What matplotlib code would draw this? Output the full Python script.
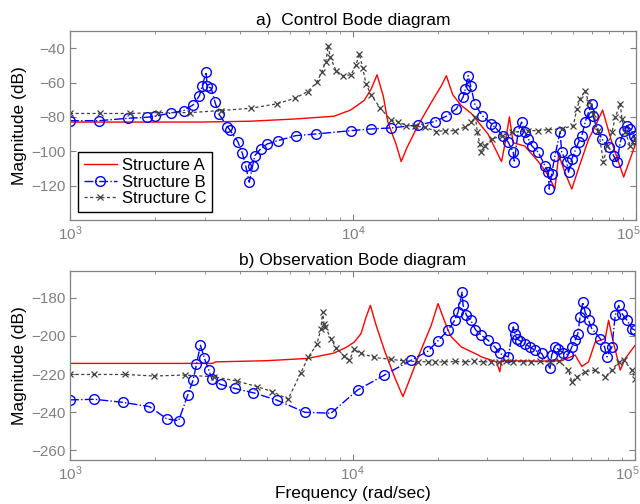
import matplotlib
matplotlib.use("Agg")
import matplotlib.pyplot as plt
from matplotlib.ticker import NullFormatter, LogLocator
from matplotlib.transforms import ScaledTranslation

plt.rcParams['font.family'] = ['Liberation Sans', 'DejaVu Sans']

# ---------------- Top panel: Control Bode diagram ----------------
fa_top = [1000, 2900, 4350, 6250, 8570, 9800, 10940, 11580, 12160, 12800, 13280, 14200,
          14800, 15500, 16960, 19000, 20500, 21370, 22500, 24000, 26200, 30000, 33480,
          34500, 35700, 36800, 40500, 45170, 49000, 51700, 53300, 56000, 59300, 62650,
          68000, 72000, 76200, 82220, 90450, 100000]
ma_top = [-83, -83, -82.5, -81.2, -79.6, -76, -70.5, -64, -55.5, -68, -83, -96,
          -106, -98, -85, -71, -62, -56, -67, -73, -78, -90, -106,
          -95, -80, -95, -97, -106, -114, -122, -102, -112, -122, -110,
          -93, -85, -76, -95, -115, -95]

fb_top = [1000, 1267, 1602, 1871, 2001, 2276, 2522, 2723, 2867, 2931, 3027, 3052, 3155,
          3249, 3357, 3595, 3672, 3917, 4062, 4175, 4300, 4420, 4500, 4718, 4984, 5433,
          6280, 7430, 9840, 11580, 13640, 16960, 19430, 21370, 23190, 24490, 24950, 25510,
          26060, 26920, 28600, 30860, 31700, 33960, 35350, 36830, 37130, 38380, 39420,
          40500, 41640, 42780, 45170, 47680, 48990, 49390, 50350, 51740, 53900, 54650,
          56930, 57750, 59300, 60960, 62650, 64370, 66100, 67970, 69830, 70500, 72740,
          75750, 79990, 83340, 85620, 87970, 90450, 92900, 95450, 98140, 100000]
mb_top = [-82.2, -82.2, -80.8, -80.2, -79.6, -77.7, -76.3, -73, -67.6, -62.1, -54, -62.1, -63.3,
          -71.1, -78.3, -85.6, -87.6, -94.4, -101, -108.4, -118, -108.4, -102.5, -98.6, -95.7, -93.8,
          -90.9, -89.9, -88, -87, -86.4, -84.7, -82.7, -79.6, -75.3, -68.5, -63.7, -56,
          -62, -72.4, -79.2, -84, -86, -90.9, -94.7, -100.6, -106.4, -88, -83,
          -88.9, -92.8, -96.7, -100.6, -108.4, -112.2, -122, -113, -102.5, -88.9, -100.6,
          -106.4, -112.2, -104.4, -99.6, -94.7, -90.9, -83.1, -77.3, -72.4, -79.2, -87,
          -92.8, -97.6, -102.5, -106.4, -94.7, -88, -85, -87, -91, -92.8]

fc_top = [1000, 1277, 1633, 2052, 2665, 3403, 4347, 5377, 6243, 6910, 7455, 7745, 8017,
          8171, 8309, 8703, 9194, 9840, 10250, 10530, 10820, 11120, 11580, 12500, 13640,
          14400, 15420, 16500, 18000, 19700, 21080, 22870, 24810, 26210, 27070, 27510,
          28040, 28430, 29210, 31000, 33480, 36330, 41640, 45170, 48990, 54650, 60070,
          61790, 63470, 66100, 67970, 70740, 73690, 76760, 78900, 82220, 84460, 87970,
          89200, 91630, 95450, 99400, 100000]
mc_top = [-78, -78, -78, -77.5, -77.5, -76.3, -75, -72.4, -69.1, -65.3, -59.8, -54, -47.8,
          -38.5, -45.2, -53, -56, -55.5, -49.7, -43.3, -51.6, -60.8, -67.2, -75, -82,
          -82.7, -85, -85.4, -86, -88.5, -88, -88, -86, -83, -80.2, -89,
          -95.7, -100.6, -96.7, -93, -90.9, -89, -88, -88, -87.4, -87, -85,
          -75.3, -69.5, -64.7, -71.5, -78.2, -88, -106.4, -96.7, -89, -80.2, -72.4,
          -81.2, -89, -96.7, -92.8, -94.7]

# ---------------- Bottom panel: Observation Bode diagram ----------------
fa_bot = [1000, 3200, 3274, 4928, 6932, 8600, 9500, 10150, 10720, 11170, 11570, 12120,
          12970, 14080, 15080, 15910, 17280, 19000, 20080, 21790, 22380, 24290, 27850,
          28610, 32340, 33230, 33690, 36000, 45000, 55000, 61380, 64820, 68480, 72280,
          78440, 80640, 84020, 88670, 92390, 100000]
ma_bot = [-214.4, -214.4, -213.6, -213, -211.8, -209, -206, -203.2, -198.8, -190.1, -184, -194.4,
          -207.5, -221.4, -231.8, -223.1, -209.2, -194.4, -183.1, -197, -200.5, -205.8, -210,
          -211, -213.6, -218.8, -212.7, -213, -213.2, -213, -210, -216, -213.6, -203.2,
          -201.4, -191.8, -204, -217.9, -211.8, -205]

fb_bot = [1000, 1220, 1539, 1908, 2206, 2425, 2610, 2728, 2803, 2896, 2992, 3099, 3187,
          3411, 3824, 4457, 5393, 6781, 8387, 10430, 12970, 16140, 18500, 20080, 21790,
          23000, 23640, 24430, 24630, 25310, 26210, 27240, 28610, 30220, 31900, 33230,
          35590, 37080, 37570, 38080, 39130, 40760, 42480, 44240, 46720, 50020, 50720,
          52120, 53580, 55810, 58150, 59740, 61370, 62740, 63910, 65350, 66580, 68460,
          70340, 75290, 78050, 79540, 82850, 85110, 87510, 89900, 93670, 97570, 100000]
mb_bot = [-233.5, -233.2, -234.8, -237, -243.5, -244.4, -231, -223.1, -214.8, -204.9, -211.8, -217.9, -222.8,
          -225.4, -227.5, -229.8, -233.6, -240, -240.5, -228.3, -220.5, -212.7, -208, -202.5, -197,
          -191.8, -187.5, -177.1, -184, -189.2, -191.8, -196.7, -199.7, -202.3, -205.8, -209.2,
          -211, -195.3, -198.8, -201.4, -202.5, -204, -205.8, -207.5, -209.2, -217, -210,
          -205.8, -207, -209, -210, -205.8, -202.3, -198.8, -190.1, -182.3, -187.5, -191.8,
          -196.2, -201.4, -205.8, -211, -205.8, -189.2, -184, -188.3, -191.8, -196.2, -197]

fc_bot = [1000, 1220, 1568, 1977, 2547, 3228, 3888, 4604, 5206, 5915, 6563, 6966, 7479,
          7730, 7839, 7930, 8008, 8387, 8738, 9352, 9741, 10150, 10720, 11950, 13700,
          15080, 17000, 18500, 19530, 21000, 23000, 25000, 27000, 29000, 31000, 33000,
          35000, 37000, 40000, 43000, 46000, 50000, 54000, 58150, 59740, 62400, 66580,
          72280, 78440, 82850, 87510, 91160, 97570, 100000]
mc_bot = [-220.2, -220.2, -220.2, -221, -220.5, -221.4, -223.6, -226.6, -229.2, -233.2, -219.3, -211.3, -204.4,
          -196.2, -187.5, -193.6, -195.3, -201.4, -206.1, -210.6, -212.7, -207.1, -209.2, -211.3, -212.3,
          -213, -213.5, -213.6, -213.6, -213.6, -213.4, -213.6, -213.2, -213.6, -213.5, -213.6,
          -213.4, -213.6, -213.5, -213.6, -213.4, -213.6, -213.3, -217.9, -224, -221.4, -218.8,
          -217.9, -221.4, -217.9, -213.6, -212.7, -218, -222.4]

labels = ["Structure A", "Structure B", "Structure C"]
xticks = [1e3, 1e4, 1e5]
yticks_top = [-40, -60, -80, -100, -120]
yticks_bot = [-180, -200, -220, -240, -260]

GRAY = "#808080"
RED = "#ff0000"
BLUE = "#0000ff"
DARK = "#404040"

fig = plt.figure(figsize=(6.4, 5.04), dpi=100)
ax1 = fig.add_axes([70/640, 1-220/504, 566/640, 189/504])
ax2 = fig.add_axes([70/640, 1-460/504, 565/640, 189/504])


def style(ax, yticks, ylim):
    ax.set_xscale('log')
    ax.set_xlim(1e3, 1e5)
    ax.set_ylim(*ylim)
    ax.set_yticks(yticks)
    ax.set_xticks(xticks)
    ax.xaxis.set_minor_locator(LogLocator(base=10, subs=range(2, 10), numticks=20))
    ax.xaxis.set_minor_formatter(NullFormatter())
    ax.tick_params(which='both', direction='in', top=True, right=True,
                   colors=GRAY, labelcolor=GRAY, labelsize=11)
    ax.tick_params(which='major', length=4.5, width=0.8)
    ax.tick_params(which='minor', length=2.5, width=0.6)
    for s in ax.spines.values():
        s.set_color(GRAY)
        s.set_linewidth(0.9)
    ax.set_ylabel("Magnitude (dB)", fontsize=12.5, color='black', labelpad=3)


def draw(ax, fa, ma, fb, mb, fc, mc):
    la, = ax.plot(fa, ma, color=RED, lw=1.0, label=labels[0])
    lb, = ax.plot(fb, mb, color=BLUE, lw=1.0, linestyle='-.', marker='o', ms=7,
                  mfc='none', mec=BLUE, mew=1.0, label=labels[1])
    lc, = ax.plot(fc, mc, color=DARK, lw=0.9, linestyle=(0, (2.5, 2)), marker='x', ms=4.5,
                  mew=0.9, label=labels[2])
    return la, lb, lc


style(ax1, yticks_top, (-140, -30))
style(ax2, yticks_bot, (-265, -166))
h = draw(ax1, fa_top, ma_top, fb_top, mb_top, fc_top, mc_top)
draw(ax2, fa_bot, ma_bot, fb_bot, mb_bot, fc_bot, mc_bot)

ax1.set_title("a)  Control Bode diagram", fontsize=12.5, pad=4)
ax2.set_title("b) Observation Bode diagram", fontsize=12.5, pad=4)
ax2.set_xlabel("Frequency (rad/sec)", fontsize=12.5, labelpad=2)

leg = ax1.legend(handles=list(h), loc='lower left', bbox_to_anchor=(0.014, 0.042),
                 fontsize=12, frameon=True, fancybox=False, framealpha=1,
                 edgecolor='black', borderpad=0.35, labelspacing=0.1,
                 handlelength=2.0, handletextpad=0.3, borderaxespad=0)
leg.get_frame().set_linewidth(1.0)

# keep the right-most tick label (10^5) inside the figure
fig.canvas.draw()
for ax in (ax1, ax2):
    last = ax.xaxis.get_major_ticks()[-1].label1
    last.set_horizontalalignment('right')
    last.set_transform(last.get_transform() + ScaledTranslation(3/72, 0, fig.dpi_scale_trans))

fig.savefig("out.png", dpi=100)
